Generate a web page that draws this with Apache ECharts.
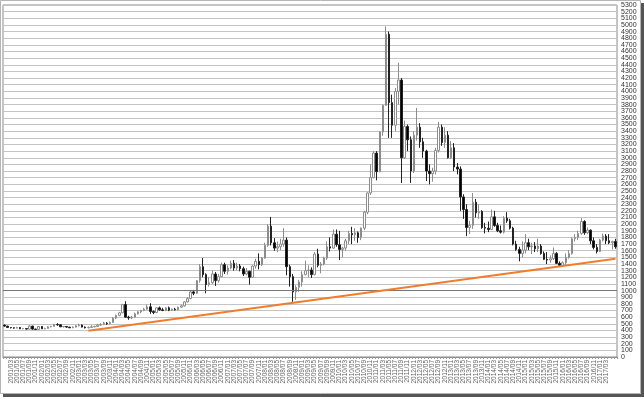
<!DOCTYPE html>
<html>
<head>
<meta charset="utf-8">
<script src="https://cdn.jsdelivr.net/npm/echarts@6/dist/echarts.min.js"></script>
<style>
  html, body { margin: 0; padding: 0; background: #fff; }
  #chart { width: 644px; height: 398px; }
</style>
</head>
<body>
<div id="chart"></div>
<script>
// months 2001/01 .. 2017/06
var months = [];
for (var y = 2001; y <= 2017; y++) {
  for (var m = 1; m <= 12; m++) {
    if (y === 2017 && m > 6) break;
    months.push(y + '/' + (m < 10 ? '0' + m : m));
  }
}

var opens = [
  480,465,445,440,435,445,425,428,420,465,420,415,
  460,425,430,455,460,490,485,455,460,450,440,450,
  470,480,450,440,445,455,460,480,490,510,500,520,
  585,625,665,790,600,590,600,650,680,700,720,755,
  685,670,740,710,700,740,705,720,710,750,770,830,
  880,980,960,1150,1360,1240,1090,1120,1250,1150,1210,1390,
  1290,1340,1410,1340,1370,1330,1250,1290,1200,1370,1440,1390,
  1490,1680,1970,1720,1640,1660,1700,1760,1360,1210,980,1050,
  1130,1240,1300,1310,1240,1550,1380,1400,1490,1660,1640,1850,
  1690,1620,1640,1750,1860,1840,1870,1800,1940,2180,2470,2700,
  3070,2790,3390,3790,4860,3830,3490,4000,4170,3000,3470,3270,
  2800,3340,3460,3240,3100,2800,2760,2800,3110,3460,3230,3340,
  3000,3150,2860,2830,2410,2220,1950,1980,2330,2170,2190,1950,
  1940,1920,2110,1980,1900,1880,2090,2050,1940,1700,1620,1560,
  1610,1720,1660,1670,1630,1670,1560,1470,1460,1480,1560,1410,
  1380,1420,1500,1560,1780,1800,1860,2040,1870,1910,1750,1650,
  1590,1760,1820,1750,1720,1740
];
var closes = [
  465,445,440,435,445,425,428,420,465,420,415,460,
  425,430,455,460,490,485,455,460,450,440,450,470,
  480,450,440,445,455,460,480,490,510,500,520,585,
  625,665,790,600,590,600,650,680,700,720,755,685,
  670,740,710,700,740,705,720,710,750,770,830,880,
  980,960,1150,1360,1240,1090,1120,1250,1150,1210,1390,1290,
  1340,1410,1340,1370,1330,1250,1290,1200,1370,1440,1390,1490,
  1680,1970,1720,1640,1660,1700,1760,1360,1210,980,1050,1130,
  1240,1300,1310,1240,1550,1380,1400,1490,1660,1640,1850,1690,
  1620,1640,1750,1860,1840,1870,1800,1940,2180,2470,2700,3070,
  2790,3390,3790,4860,3830,3490,4000,4170,3000,3470,3270,2800,
  3340,3460,3240,3100,2800,2760,2800,3110,3460,3230,3340,3000,
  3150,2860,2830,2410,2220,1950,1980,2330,2170,2190,1950,1940,
  1920,2110,1980,1900,1880,2090,2050,1940,1700,1620,1560,1610,
  1720,1660,1670,1630,1670,1560,1470,1460,1480,1560,1410,1380,
  1420,1500,1560,1780,1800,1860,2040,1870,1910,1750,1650,1590,
  1760,1820,1750,1720,1740,1660
];
var lows = [
  455,440,430,425,430,420,418,415,415,410,405,410,
  420,418,425,445,455,470,450,445,440,435,435,445,
  460,445,430,430,440,445,455,470,480,485,490,515,
  570,615,660,590,560,570,590,640,660,690,710,650,
  645,660,700,690,690,690,690,700,705,740,760,820,
  870,930,950,1120,1200,960,1060,1100,1070,1120,1200,1250,
  1240,1320,1300,1310,1290,1220,1230,1090,1190,1330,1320,1370,
  1480,1660,1680,1600,1580,1610,1660,1230,1060,830,860,980,
  1060,1230,1200,1190,1230,1350,1260,1380,1460,1590,1630,1660,
  1460,1500,1600,1700,1700,1750,1720,1760,1910,2150,2440,2690,
  2660,2780,3330,3780,3300,3300,3400,3800,2620,2980,3100,2620,
  2770,3260,3150,3000,2650,2600,2640,2750,3080,3180,3150,2990,
  2980,2800,2750,2200,2080,1820,1850,1930,2100,2080,1930,1860,
  1880,1910,1960,1880,1860,1860,2020,1920,1680,1600,1440,1500,
  1560,1610,1550,1580,1580,1540,1460,1400,1420,1460,1400,1370,
  1360,1390,1480,1540,1740,1760,1840,1840,1850,1700,1620,1560,
  1580,1740,1700,1700,1620,1630
];
var highs = [
  490,470,450,445,455,450,435,435,480,470,425,465,
  465,440,465,470,500,510,495,465,465,455,460,480,
  500,490,460,460,480,470,500,510,530,525,535,600,
  640,680,800,840,620,620,670,690,710,740,790,810,
  700,750,760,740,750,760,730,740,760,790,840,900,
  1000,1010,1160,1400,1490,1260,1200,1300,1280,1250,1420,1420,
  1380,1450,1460,1420,1400,1360,1340,1300,1380,1480,1560,1500,
  1720,2000,2110,1790,1740,1780,1940,1800,1390,1250,1080,1160,
  1290,1450,1380,1350,1580,1630,1430,1510,1740,1800,1920,1920,
  1900,1660,1780,1900,1960,1940,1890,1950,2200,2480,2900,3100,
  3100,3400,3800,4980,4900,3950,4050,4430,4200,3560,3500,3320,
  3400,3750,3520,3300,3120,2900,2850,3150,3540,3500,3460,3400,
  3250,3220,2920,2870,2450,2300,2050,2470,2380,2300,2210,2020,
  2040,2220,2200,2020,1980,2120,2180,2080,1960,1750,1660,1740,
  1850,1780,1720,1730,1780,1700,1590,1580,1530,1650,1580,1440,
  1440,1560,1610,1800,1850,1900,2090,2060,1950,1920,1800,1700,
  1780,1860,1850,1850,1750,1780
];

// y scale
var yMin = 0, yMax = 5300, yStep = 100;

// support line
var trendFrom = ['2003/04', 395];
var trendTo = ['2017/06', 1480];

var candles = months.map(function (d, i) {
  return [opens[i], closes[i], lows[i], highs[i]];
});

var labelStyle = {
  fontSize: 7, color: '#333', fontFamily: 'Liberation Sans', margin: 4
};

var myChart = echarts.init(document.getElementById('chart'), null, { renderer: 'canvas' });

var option = {
  animation: false,
  backgroundColor: '#fff',
  graphic: [
    { type: 'rect', shape: { x: 0.5, y: 0.5, width: 640, height: 393 },
      style: { fill: null, stroke: '#b5b5b5', lineWidth: 1 }, silent: true },
    { type: 'rect', shape: { x: 3, y: 394, width: 640, height: 3 },
      style: { fill: '#555' }, silent: true },
    { type: 'rect', shape: { x: 641, y: 3, width: 3, height: 394 },
      style: { fill: '#555' }, silent: true }
  ],
  grid: {
    left: 3, right: 27, top: 5, bottom: 41,
    show: true, borderColor: '#8a8a8a', borderWidth: 1
  },
  xAxis: {
    type: 'category',
    data: months,
    boundaryGap: true,
    axisLine: { lineStyle: { color: '#8a8a8a', width: 1 } },
    axisTick: { show: true, interval: 0, length: 2, lineStyle: { color: '#999' } },
    axisLabel: {
      interval: 1, rotate: 90, fontSize: 6.5, color: '#666',
      fontFamily: 'Liberation Sans', margin: 3
    },
    splitLine: { show: false }
  },
  yAxis: [{
    // inner labels (min / max handled by the second axis)
    type: 'value',
    position: 'right',
    min: yMin, max: yMax, interval: yStep,
    axisLine: { show: false },
    axisTick: { show: false },
    axisLabel: Object.assign({}, labelStyle, {
      showMinLabel: false, showMaxLabel: false,
      formatter: function (v) { return String(v); }
    }),
    splitLine: { show: true, lineStyle: { color: '#c4c4c4', width: 1 } }
  }, {
    type: 'value',
    position: 'right',
    min: yMin, max: yMax, interval: yStep,
    axisLine: { show: false },
    axisTick: { show: false },
    axisLabel: Object.assign({}, labelStyle, {
      showMinLabel: true, showMaxLabel: true,
      formatter: function (v) { return (v === yMin || v === yMax) ? String(v) : ''; }
    }),
    splitLine: { show: false }
  }],
  series: [{
    type: 'candlestick',
    data: candles,
    barWidth: 2,
    itemStyle: {
      color: '#fff', borderColor: '#8c8c8c',
      color0: '#000', borderColor0: '#222', borderWidth: 1
    },
    markLine: {
      silent: true,
      symbol: ['none', 'none'],
      label: { show: false },
      data: [
        [{ yAxis: 1000, x: 3, lineStyle: { color: '#777', width: 1, type: 'solid' } },
         { yAxis: 1000, x: 617 }],
        [{ coord: trendFrom, lineStyle: { color: '#f07d2c', width: 2, type: 'solid' } },
         { coord: trendTo }]
      ]
    }
  }]
};

myChart.setOption(option);
</script>
</body>
</html>
